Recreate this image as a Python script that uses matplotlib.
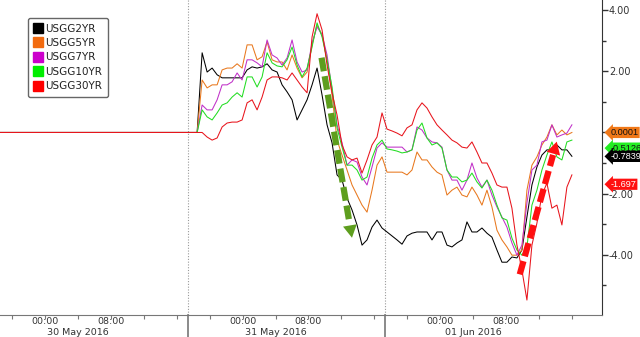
import numpy as np
import matplotlib.pyplot as plt
from matplotlib.lines import Line2D

# ------------------------------
# Data (change vs. start)
# time axis: hours from 31 May 2016 00:00
# ------------------------------
t_left, t_right = -29.5, 43.7
t_first, t_last = -5.53, 40.04
session_breaks = [-6.7, 17.3]
start_level = 0.0

names = ['USGG2YR', 'USGG5YR', 'USGG7YR', 'USGG10YR', 'USGG30YR']
line_colors = ['#000000', '#E8781E', '#C030C8', '#22DD22', '#E8141C']
legend_colors = ['#000000', '#F26B10', '#CC00CC', '#00EE00', '#FF0000']

usgg2 = [0, 2.61, 1.98, 2.11, 1.89, 1.79, 1.79, 1.79, 1.79, 1.79,
         2.05, 2.15, 2.11, 2.15, 2.25, 2.05, 1.98, 1.56, 1.33, 1.07,
         0.41, 0.74, 1.07, 1.56, 2.11, 1.23, 0.25, -0.34, -1.39, -1.56,
         -2.15, -2.54, -3.03, -3.69, -3.52, -3.10, -2.87, -3.13, -3.26, -3.39,
         -3.52, -3.66, -3.39, -3.30, -3.26, -3.26, -3.26, -3.52, -3.26, -3.26,
         -3.69, -3.75, -3.62, -3.52, -2.93, -3.26, -3.26, -3.13, -3.30, -3.43,
         -3.85, -4.25, -4.25, -4.08, -4.11, -3.85, -2.77, -1.72, -1.13, -0.74,
         -0.57, -0.57, -0.41, -0.57, -0.57, -0.78]
usgg5 = [0, 1.72, 1.46, 1.56, 1.56, 2.05, 2.11, 2.11, 2.25, 2.11,
         2.87, 2.87, 2.38, 2.48, 2.97, 2.38, 2.31, 2.31, 2.05, 2.54,
         2.11, 1.79, 1.98, 2.87, 3.52, 3.20, 2.38, 1.23, -0.25, -0.74,
         -1.23, -1.72, -2.05, -2.38, -2.61, -1.89, -1.07, -0.80, -1.30, -1.30,
         -1.30, -1.30, -1.39, -1.23, -0.64, -0.90, -0.90, -1.13, -1.30, -1.39,
         -2.05, -1.89, -1.79, -2.05, -2.11, -1.79, -2.05, -2.38, -1.89, -2.44,
         -3.20, -3.52, -3.75, -4.02, -4.02, -3.85, -1.89, -1.07, -0.80, -0.41,
         -0.15, 0.25, -0.08, 0.08, -0.08, 0.00]
usgg7 = [0, 0.90, 0.74, 0.74, 1.07, 1.56, 1.56, 1.66, 1.95, 1.72,
         2.38, 2.38, 2.28, 2.15, 3.03, 2.54, 2.44, 2.21, 2.44, 3.03,
         2.31, 1.98, 2.05, 2.93, 3.46, 3.20, 2.54, 1.39, 0.25, -0.34,
         -1.07, -0.90, -0.97, -1.46, -1.72, -1.13, -0.51, -0.34, -0.48, -0.48,
         -0.48, -0.48, -0.64, -0.57, 0.18, 0.08, -0.18, -0.31, -0.34, -0.48,
         -1.23, -1.56, -1.56, -1.89, -1.56, -1.00, -1.49, -1.79, -1.56, -2.05,
         -2.44, -2.77, -3.10, -3.62, -4.02, -3.69, -2.31, -1.23, -1.07, -0.31,
         -0.25, 0.25, -0.15, -0.08, -0.02, 0.25]
usgg10 = [0, 0.74, 0.51, 0.41, 0.64, 0.90, 0.97, 1.16, 1.30, 1.16,
          1.82, 1.82, 1.49, 1.82, 2.61, 2.28, 2.18, 2.15, 2.38, 2.80,
          2.21, 1.82, 2.11, 2.80, 3.59, 3.13, 2.38, 1.49, 0.15, -0.48,
          -1.07, -1.07, -1.23, -1.56, -1.46, -0.84, -0.41, -0.25, -0.54, -0.57,
          -0.61, -0.67, -0.64, -0.57, 0.08, 0.31, -0.18, -0.41, -0.34, -0.51,
          -1.23, -1.46, -1.46, -1.62, -1.56, -1.33, -1.62, -1.82, -1.56, -1.89,
          -2.38, -2.80, -2.87, -3.46, -3.85, -4.02, -3.75, -2.38, -1.89, -1.23,
          -0.74, -0.31, -0.80, -0.90, -0.31, -0.25]
usgg30 = [0, 0, -0.15, -0.25, -0.18, 0.18, 0.31, 0.34, 0.34, 0.41,
          0.97, 1.07, 0.74, 1.16, 1.72, 1.82, 1.82, 1.79, 1.72, 1.95,
          1.72, 1.49, 1.30, 3.13, 3.89, 3.36, 2.21, 1.30, 0.57, -0.41,
          -0.80, -0.90, -0.84, -1.33, -0.90, -0.41, -0.15, 0.64, 0.11, 0.05,
          -0.02, -0.11, 0.15, 0.25, 0.74, 0.97, 0.80, 0.51, 0.25, 0.08,
          -0.08, -0.25, -0.34, -0.48, -0.51, -0.31, -0.64, -1.00, -1.00, -1.33,
          -1.72, -1.79, -1.79, -2.48, -3.69, -4.51, -5.49, -3.69, -2.97, -2.05,
          -1.66, -2.48, -2.38, -3.03, -1.79, -1.39]
series = [usgg2, usgg5, usgg7, usgg10, usgg30]

# last-value tags on the right axis
tag_values = [0.0001, -0.5126, -0.7839, -1.697]
tag_labels = ['0.0001', '-0.5126', '-0.7839', '-1.697']
tag_colors = ['#F07818', '#22EE22', '#000000', '#FF1010']
tag_text_colors = ['#111111', '#111111', 'white', 'white']

# hand-drawn arrows (tail, tip)
green_arrow = [(9.6, 2.45), (13.3, -3.45)]
red_arrow = [(33.7, -4.65), (38.2, -0.30)]

day_labels = ['30 May 2016', '31 May 2016', '01 Jun 2016']
day_starts = [-24, 0, 24]
y_ticks = [-4, -2, 0, 2, 4]

# ------------------------------
# Figure
# ------------------------------
fig = plt.figure(figsize=(6.4, 3.37), dpi=100)
ax = fig.add_axes([0, 1 - 315 / 337, 602 / 640, 315 / 337])

t = np.r_[t_left, np.linspace(t_first, t_last, len(usgg2))]
for vals, c in zip(series, line_colors):
    ax.plot(t, np.r_[start_level, vals], color=c, lw=0.75, zorder=3)

ax.set_xlim(t_left, t_right)
ax.set_ylim(-5.98, 4.34)

# session separators
for b in session_breaks:
    ax.axvline(b, color='#9a9a9a', ls=(0, (1, 1.5)), lw=0.8, zorder=1)
    ax.plot([b, b], [0, -0.08], transform=ax.get_xaxis_transform(),
            color='#777777', lw=1.2, clip_on=False)

# spines
for s in ['top', 'left']:
    ax.spines[s].set_visible(False)
ax.spines['right'].set_color('#333333')
ax.spines['bottom'].set_color('#777777')

# y axis on the right (the 0 label sits under the value tags)
ax.yaxis.tick_right()
ax.set_yticks(y_ticks)
ax.set_yticklabels(['' if v == 0 else '%.2f' % v for v in y_ticks])
ax.set_yticks([-5, -3, -1, 1, 3], minor=True)
ax.tick_params(axis='y', which='major', length=4, width=1, pad=1,
               labelsize=7, colors='#333333')
ax.tick_params(axis='y', which='minor', length=3, width=1, color='#333333')

# x axis: ticks every 4 hours, labels drawn by hand
ax.set_xticks(np.arange(-28, 44, 4))
ax.set_xticklabels([])
ax.tick_params(axis='x', length=3, color='#777777')
xtr = ax.get_xaxis_transform()
for d0, lab in zip(day_starts, day_labels):
    for hh, txt in [(0, '00:00'), (8, '08:00')]:
        ax.text(d0 + hh, -0.022, txt, transform=xtr, ha='center', va='center',
                fontsize=6.8, color='#333333')
    ax.text(d0 + 4, -0.054, lab, transform=xtr, ha='center', va='center',
            fontsize=6.8, color='#333333')

# value tags
ytr = ax.get_yaxis_transform()
for v, lab, c, tc in zip(tag_values, tag_labels, tag_colors, tag_text_colors):
    ax.text(1.014, v, lab, transform=ytr, ha='left', va='center',
            fontsize=6.6, family='Liberation Sans', color=tc, zorder=10,
            clip_on=False,
            bbox=dict(boxstyle='larrow,pad=0.12', fc=c, ec='none'))


def dashed_arrow(start, end, color):
    (x0, y0), (x1, y1) = start, end
    f = 0.9
    xm, ym = x0 + f * (x1 - x0), y0 + f * (y1 - y0)
    ax.plot([x0, xm], [y0, ym], color=color, lw=4.5, dashes=(2.2, 0.8),
            solid_capstyle='butt', zorder=6)
    ax.annotate('', xy=end, xytext=(xm, ym), zorder=6,
                arrowprops=dict(arrowstyle='-|>,head_length=0.9,head_width=0.5',
                                color=color, lw=0, shrinkA=0, shrinkB=0,
                                mutation_scale=10))


dashed_arrow(*green_arrow, '#5E9E1E')
dashed_arrow(*red_arrow, '#FF1010')

# legend
handles = [Line2D([], [], marker='s', ls='none', markersize=7,
                  markerfacecolor=c, markeredgecolor=c) for c in legend_colors]
leg = ax.legend(handles, names, loc='upper left',
                bbox_to_anchor=(28 / 602, 1 - 18 / 315), borderaxespad=0,
                fancybox=True, edgecolor='#666666', framealpha=1,
                fontsize=7.5, handlelength=0.8, handletextpad=0.3,
                labelspacing=0.42, borderpad=0.55)
leg.get_frame().set_linewidth(1.0)
for txt in leg.get_texts():
    txt.set_color('#222222')

fig.savefig('out.png', dpi=100, facecolor='white')
